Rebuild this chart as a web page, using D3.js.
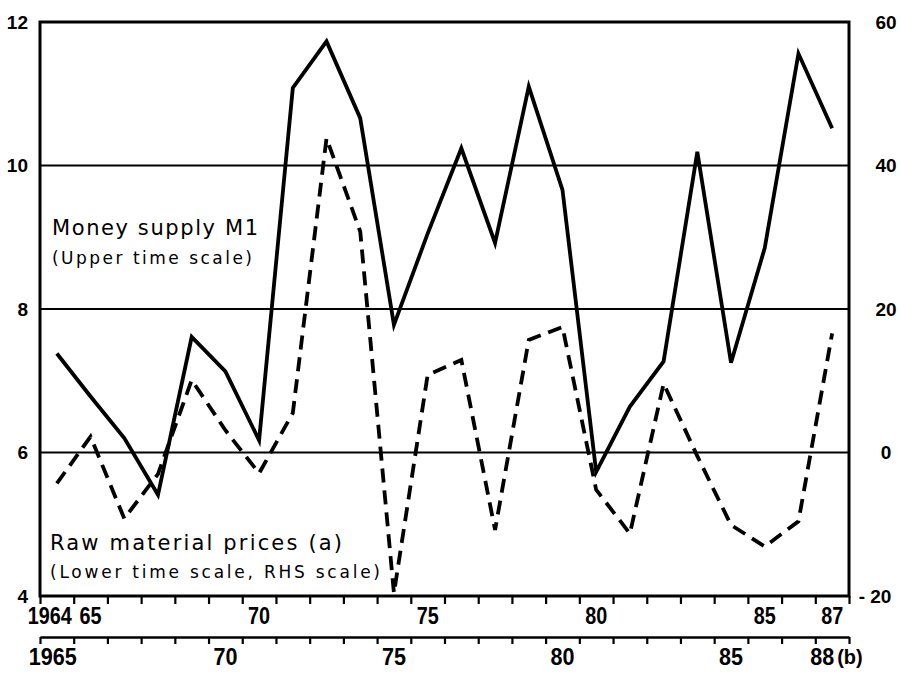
<!DOCTYPE html>
<html>
<head>
<meta charset="utf-8">
<script src="https://d3js.org/d3.v7.min.js"></script>
<style>
  body { margin: 0; background: #fff; }
</style>
</head>
<body>
<div id="my_dataviz"></div>
<script>
// Money supply M1 (upper time scale, left axis)
var m1Years = [1964, 1965, 1966, 1967, 1968, 1969, 1970, 1971, 1972, 1973, 1974, 1975,
               1976, 1977, 1978, 1979, 1980, 1981, 1982, 1983, 1984, 1985, 1986, 1987];
var m1Values = [7.38, 6.78, 6.2, 5.41, 7.61, 7.13, 6.17, 11.08, 11.73, 10.66, 7.78, 9.05,
                10.24, 8.92, 11.1, 9.66, 5.73, 6.64, 7.27, 10.19, 7.25, 8.85, 11.56, 10.52];

// Raw material prices (lower time scale, right axis)
var rawYears = [1965, 1966, 1967, 1968, 1969, 1970, 1971, 1972, 1973, 1974, 1975, 1976,
                1977, 1978, 1979, 1980, 1981, 1982, 1983, 1984, 1985, 1986, 1987, 1988];
var rawValues = [-4.3, 2.2, -9.2, -3, 10.1, 3.1, -2.9, 5.5, 43.8, 30.8, -19.6, 10.8,
                 12.9, -10.8, 15.7, 17.5, -5.2, -11.3, 9.6, -0.5, -10.1, -13.1, -9.6, 16.6];

// tick labels
var leftTicks = [4, 6, 8, 10, 12];
var rightTicks = [-20, 0, 20, 40, 60];
var upperLabelYears = [1964, 1965, 1970, 1975, 1980, 1985, 1987];
var upperLabels = ["1964", "65", "70", "75", "80", "85", "87"];
var lowerLabelYears = [1965, 1970, 1975, 1980, 1985, 1988];
var lowerLabels = ["1965", "70", "75", "80", "85", "88"];

// set the dimensions and margins of the graph
var margin = {top: 22, right: 51, bottom: 77, left: 40},
    width = 900 - margin.left - margin.right,
    height = 673 - margin.top - margin.bottom;

var svg = d3.select("#my_dataviz")
  .append("svg")
    .attr("width", 900)
    .attr("height", 673)
  .append("g")
    .attr("transform", "translate(" + margin.left + "," + margin.top + ")");

// two time scales, shifted by one year; values sit in the middle of each year
var xUpper = d3.scaleLinear().domain([1964, 1988]).range([0, width]);
var xLower = d3.scaleLinear().domain([1965, 1989]).range([0, width]);
var yLeft = d3.scaleLinear().domain([4, 12]).range([height, 0]);
var yRight = d3.scaleLinear().domain([-20, 60]).range([height, 0]);

var tickFont = "'Liberation Sans', Arial, sans-serif";
var textFont = "'DejaVu Sans', sans-serif";
var digitWidth = 11;   // the year labels are narrow, so squeeze them

// horizontal grid lines
svg.append("g")
  .selectAll("line")
  .data([6, 8, 10])
  .enter()
  .append("line")
    .attr("x1", 0)
    .attr("x2", width)
    .attr("y1", function(d) { return yLeft(d) })
    .attr("y2", function(d) { return yLeft(d) })
    .attr("stroke", "#000")
    .attr("stroke-width", 2.2);

// frame
svg.append("rect")
  .attr("width", width)
  .attr("height", height)
  .attr("fill", "none")
  .attr("stroke", "#000")
  .attr("stroke-width", 3);

// left axis
var gLeft = svg.append("g")
  .call(d3.axisLeft(yLeft).tickValues(leftTicks).tickSize(0).tickPadding(12));
gLeft.select(".domain").remove();
gLeft.selectAll("text")
  .style("font-family", tickFont)
  .style("font-weight", "bold")
  .style("font-size", "19px")
  .attr("fill", "#000");

// right axis
var gRight = svg.append("g")
  .attr("transform", "translate(" + width + ",0)")
  .call(d3.axisRight(yRight).tickValues(rightTicks).tickSize(0)
    .tickFormat(function(d) { return d < 0 ? "- " + Math.abs(d) : d }));
gRight.select(".domain").remove();
gRight.selectAll("text")
  .attr("x", function(d) { return d < 0 ? 26 : 37 })
  .style("text-anchor", "middle")
  .style("font-family", tickFont)
  .style("font-weight", "bold")
  .style("font-size", "19px")
  .attr("fill", "#000");

// upper time scale: ticks under the frame
var gUpper = svg.append("g")
  .attr("transform", "translate(0," + height + ")")
  .call(d3.axisBottom(xUpper).tickValues(d3.range(1964, 1989)).tickSize(8).tickFormat(""));
gUpper.select(".domain").remove();
gUpper.selectAll("line").attr("stroke-width", 2.2);

svg.append("g")
  .selectAll("text")
  .data(upperLabelYears)
  .enter()
  .append("text")
    .attr("x", function(d) { return xUpper(d + 0.5) })
    .attr("dx", function(d, i) { return i == 0 ? -7 : 0 })
    .attr("y", height + 28)
    .attr("textLength", function(d, i) { return upperLabels[i].length * digitWidth })
    .attr("lengthAdjust", "spacingAndGlyphs")
    .style("text-anchor", "middle")
    .style("font-family", tickFont)
    .style("font-weight", "bold")
    .style("font-size", "24px")
    .text(function(d, i) { return upperLabels[i] });

// lower time scale
var lowerY = height + 41;
var gLower = svg.append("g")
  .attr("transform", "translate(0," + lowerY + ")")
  .call(d3.axisBottom(xLower).tickValues(d3.range(1965, 1990)).tickSize(7).tickSizeOuter(0).tickFormat(""));
gLower.select(".domain").attr("stroke-width", 2.5);
gLower.selectAll("line").attr("stroke-width", 2.2);

svg.append("g")
  .selectAll("text")
  .data(lowerLabelYears)
  .enter()
  .append("text")
    .attr("x", function(d) { return xLower(d + 0.5) })
    .attr("dx", function(d, i) { return i == 0 ? -4 : (d == 1988 ? -10 : 0) })
    .attr("y", lowerY + 28)
    .attr("textLength", function(d, i) { return lowerLabels[i].length * (digitWidth + 1) })
    .attr("lengthAdjust", "spacingAndGlyphs")
    .style("text-anchor", "middle")
    .style("font-family", tickFont)
    .style("font-weight", "bold")
    .style("font-size", "24px")
    .text(function(d, i) { return lowerLabels[i] });

svg.append("text")
  .attr("x", xLower(1988.5) + 5)
  .attr("y", lowerY + 27)
  .style("font-family", tickFont)
  .style("font-weight", "bold")
  .style("font-size", "20px")
  .text("(b)");

// Money supply line
var m1Data = m1Years.map(function(y, i) { return {year: y, value: m1Values[i]} });
svg.append("path")
  .datum(m1Data)
  .attr("fill", "none")
  .attr("stroke", "#000")
  .attr("stroke-width", 3.8)
  .attr("d", d3.line()
    .x(function(d) { return xUpper(d.year + 0.5) })
    .y(function(d) { return yLeft(d.value) })
  );

// Raw material prices line
var rawData = rawYears.map(function(y, i) { return {year: y, value: rawValues[i]} });
svg.append("path")
  .datum(rawData)
  .attr("fill", "none")
  .attr("stroke", "#000")
  .attr("stroke-width", 3.8)
  .attr("stroke-dasharray", "14,8")
  .attr("d", d3.line()
    .x(function(d) { return xLower(d.year + 0.5) })
    .y(function(d) { return yRight(d.value) })
  );

// labels inside the plot
var notes = [
  {text: "Money supply M1", x: 12, y: 213, size: 21, len: 206},
  {text: "(Upper time scale)", x: 12, y: 242, size: 17, len: 200},
  {text: "Raw material prices (a)", x: 10, y: 528, size: 21, len: 292},
  {text: "(Lower time scale, RHS scale)", x: 10, y: 556, size: 17, len: 330}
];
svg.append("g")
  .selectAll("text")
  .data(notes)
  .enter()
  .append("text")
    .attr("x", function(d) { return d.x })
    .attr("y", function(d) { return d.y })
    .attr("textLength", function(d) { return d.len })
    .attr("lengthAdjust", "spacing")
    .style("font-family", textFont)
    .style("font-size", function(d) { return d.size + "px" })
    .text(function(d) { return d.text });
</script>
</body>
</html>
